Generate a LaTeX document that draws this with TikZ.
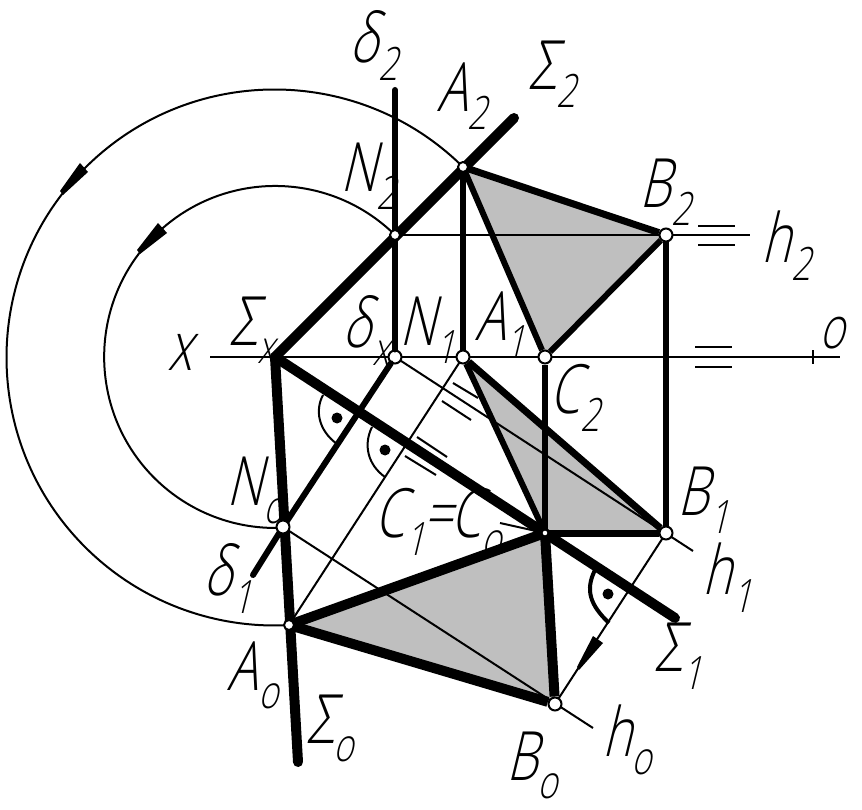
\documentclass[tikz,border=0pt]{standalone}
\usepackage{fontspec}
\usepackage{tikz}
\newfontfamily\cadfont[FakeStretch=0.74,FakeSlant=0.24]{Open Sans Light}
\newcommand{\bigtxt}{\cadfont\fontsize{68}{68}\selectfont}
\newcommand{\subtxt}{\cadfont\fontsize{46}{46}\selectfont}
\newcommand{\lab}[2]{{\bigtxt #1}\raisebox{-18pt}{\subtxt #2}}
\tikzset{circ/.style = {draw, fill = white, circle, line width = 2, inner sep = 0, minimum size = 13}}
\tikzset{small circ/.style = {circ, minimum size = 10}}
\tikzset{lbl/.style = {inner sep = 0}}
\tikzset{thin line/.style = {line width = 2}}
\tikzset{mid line/.style = {line width = 6}}
\tikzset{edge line/.style = {line width = 7}}
\tikzset{thick line/.style = {line width = 10}}
\tikzset{plate/.style = {fill = black!25}}
\tikzset{mark dot/.style = {fill, circle, inner sep = 0, minimum size = 11}}

\begin{document}
\begin{tikzpicture}[x = 1pt, y = -1pt]
      \useasboundingbox (0, 0) rectangle (862, 810);

      \coordinate (Sx) at (275, 357);
      \coordinate (A2) at (463, 167);
      \coordinate (N2) at (395, 235);
      \coordinate (B2) at (666, 235);
      \coordinate (C2) at (545, 357);
      \coordinate (N1) at (395, 357);
      \coordinate (A1) at (463, 357);
      \coordinate (B1) at (666, 533);
      \coordinate (C1) at (545, 533);
      \coordinate (N0) at (283, 527);
      \coordinate (A0) at (289, 625);
      \coordinate (B0) at (555, 704);
      \coordinate (S2end) at (514, 118);
      \coordinate (S1end) at (675, 618);
      \coordinate (S0end) at (298, 762);
      \coordinate (D2end) at (395, 90);
      \coordinate (D1end) at (253, 575);
      \coordinate (Xleft) at (210, 357);
      \coordinate (Xright) at (840, 357);
      \coordinate (H2end) at (750, 235);
      \coordinate (H1end) at (693, 551);
      \coordinate (H0end) at (593, 728);
      \coordinate (Cleader) at (500, 523);

      \fill [plate] (A2) -- (B2) -- (C2) -- cycle;
      \fill [plate] (A1) -- (B1) -- (C1) -- cycle;
      \fill [plate] (A0) -- (B0) -- (C1) -- cycle;

      % folding circles
      \draw [thin line] (A2) arc (314.7:87:268);
      \draw [thin line] (N2) arc (314.5:87:171);
      \fill (60, 191) -- (80, 163) -- (88, 172) -- (63, 195) -- cycle;
      \fill (137, 250) -- (158, 223) -- (167, 233) -- (140, 254) -- cycle;
      \fill (577, 667) -- (593, 636) -- (603, 643) -- (579, 670) -- cycle;

      \draw [thin line] (Xleft) -- (Xright);
      \draw [thin line] (813, 350) -- (813, 364);
      \draw [thin line] (N2) -- (H2end);
      \draw [thin line] (N1) -- (H1end);
      \draw [thin line] (N0) -- (H0end);
      \draw [thin line] (A1) -- (A0);
      \draw [thin line] (B1) -- (B0);
      \draw [thin line] (Cleader) -- (C1);

      % parallel marks
      \draw [thin line] (698, 226) -- (735, 226);
      \draw [thin line] (698, 245) -- (735, 245);
      \draw [thin line] (695, 347) -- (732, 347);
      \draw [thin line] (695, 367) -- (732, 367);
      \draw [thin line] (453, 383) -- (478, 398);
      \draw [thin line] (442, 401) -- (471, 420);
      \draw [thin line] (417, 437) -- (447, 457);
      \draw [thin line] (405, 456) -- (436, 475);

      % right angles
      \draw [thin line] (323, 395) .. controls (315, 410) and (318, 430) .. (337, 444);
      \draw [thin line] (372, 427) .. controls (363, 445) and (368, 465) .. (385, 477);
      \draw [line width = 4] (595, 570) .. controls (585, 590) and (590, 605) .. (609, 623);
      \node [mark dot] (d1) at (337, 418) {};
      \node [mark dot] (d2) at (385, 450) {};
      \node [mark dot] (d3) at (608, 594) {};

      \node [circ] (b2) at (B2) {};
      \node [circ] (c2) at (C2) {};
      \node [circ] (n1) at (N1) {};
      \node [circ] (a1) at (A1) {};
      \node [circ] (b1) at (B1) {};
      \node [circ] (b0) at (B0) {};

      \draw [mid line, line cap = round] (D2end) -- (n1);
      \draw [mid line, line cap = round] (n1) -- (N0) -- (D1end);
      \draw [mid line] (A2) -- (a1);
      \draw [mid line] (b2) -- (b1);
      \draw [mid line] (c2) -- (C1);
      \draw [mid line] (A2) -- (c2);
      \draw [mid line] (c2) -- (b2);
      \draw [mid line] (a1) -- (C1);
      \draw [edge line] (A2) -- (b2);
      \draw [edge line] (a1) -- (b1);
      \draw [edge line] (C1) -- (b1);
      \draw [thick line, line cap = round] (Sx) -- (S2end);
      \draw [thick line, line cap = round] (Sx) -- (S1end);
      \draw [thick line, line cap = round] (Sx) -- (S0end);
      \draw [thick line] (A0) -- (C1);
      \draw [thick line] (A0) -- (b0);
      \draw [thick line] (C1) -- (b0);

      \node [small circ] (a2) at (A2) {};
      \node [small circ] (n2) at (N2) {};
      \node [circ] (n0) at (N0) {};
      \node [small circ] (a0) at (A0) {};
      \node [small circ, minimum size = 7] (c1) at (C1) {};

      \node [lbl] (ld2) at (374, 45) {\lab{δ}{2}};
      \node [lbl] (la2) at (462, 96) {\lab{A}{2}};
      \node [lbl] (ls2) at (552, 74) {\lab{Σ}{2}};
      \node [lbl] (ln2) at (368, 176) {\lab{N}{2}};
      \node [lbl] (lb2) at (665, 192) {\lab{B}{2}};
      \node [lbl] (lh2) at (786, 246) {\lab{h}{2}};
      \node [lbl] (lx) at (180, 352) {\bigtxt x};
      \node [lbl] (lo) at (832, 333) {\cadfont\fontsize{58}{58}\selectfont o};
      \node [lbl] (lsx) at (252, 330) {\lab{Σ}{x}};
      \node [lbl] (ldx) at (366, 330) {\lab{δ}{x}};
      \node [lbl] (ln1) at (427, 330) {\lab{N}{1}};
      \node [lbl] (la1) at (500, 325) {\lab{A}{1}};
      \node [lbl] (lc2) at (575, 398) {\lab{C}{2}};
      \node [lbl] (lb1) at (703, 500) {\lab{B}{1}};
      \node [lbl] (lc1) at (438, 522) {\lab{C}{1}{\kern-2pt\bigtxt =\kern-2pt}\lab{C}{o}};
      \node [lbl] (ln0) at (255, 490) {\lab{N}{o}};
      \node [lbl] (ld1) at (228, 578) {\lab{δ}{1}};
      \node [lbl] (la0) at (253, 675) {\lab{A}{o}};
      \node [lbl] (ls0) at (330, 728) {\lab{Σ}{o}};
      \node [lbl] (lb0) at (532, 765) {\lab{B}{o}};
      \node [lbl] (lh0) at (627, 740) {\lab{h}{o}};
      \node [lbl] (lh1) at (727, 578) {\lab{h}{1}};
      \node [lbl] (ls1) at (678, 656) {\lab{Σ}{1}};
\end{tikzpicture}
\end{document}
